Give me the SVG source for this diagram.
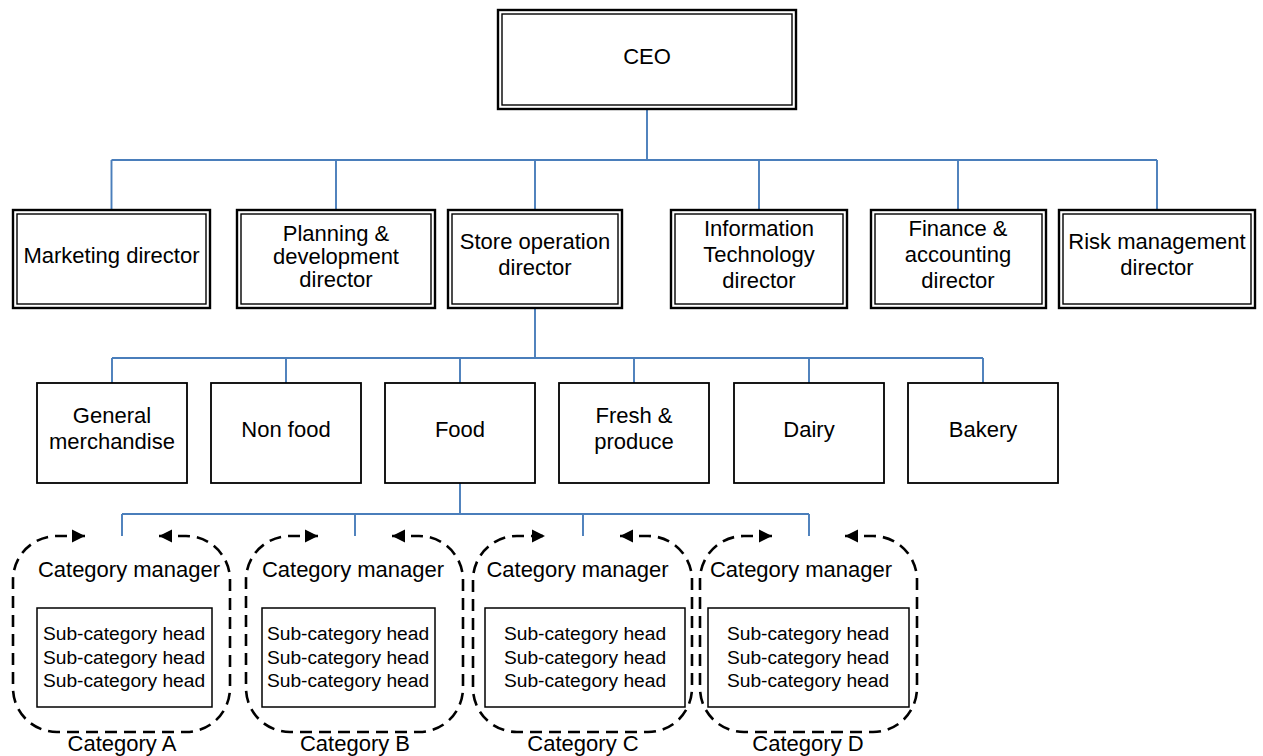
<svg xmlns="http://www.w3.org/2000/svg" width="1263" height="756" viewBox="0 0 1263 756">
  <style>
    text { font-family: "Liberation Sans", Arial, sans-serif; fill: #000; text-anchor: middle; }
    .t { font-size: 22px; }
    .s { font-size: 19.2px; }
    .outer { fill: #fff; stroke: #000; stroke-width: 2.4; }
    .inner { fill: none; stroke: #000; stroke-width: 1.4; }
    .box { fill: #fff; stroke: #000; stroke-width: 1.8; }
    .sub { fill: #fff; stroke: #000; stroke-width: 1.5; }
    .link { fill: none; stroke: #4a7ebb; stroke-width: 1.9; }
    .group { fill: none; stroke: #000; stroke-width: 2.6; stroke-dasharray: 12 7; marker-start: url(#arrow); marker-end: url(#arrow); }
  </style>
  <defs>
    <marker id="arrow" markerUnits="userSpaceOnUse" markerWidth="16" markerHeight="16" refX="13" refY="7" orient="auto-start-reverse">
      <path d="M0,0.5 L13,7 L0,13.5 z" fill="#000"/>
    </marker>
  </defs>
  <rect width="1263" height="756" fill="#fff"/>

  <!-- reporting lines -->
  <g id="connectors">
    <path class="link" d="M647,110 V160 M111.5,160 H1157 M111.5,160 V209 M336,160 V209 M535,160 V209 M759,160 V209 M958,160 V209 M1157,160 V209"/>
    <path class="link" d="M535,309 V358 M112,358 H983 M112,358 V383 M286,358 V383 M460,358 V383 M634,358 V383 M809,358 V383 M983,358 V383"/>
    <path class="link" d="M460,483 V514 M122,514 H809 M122,514 V536 M355,514 V536 M583,514 V536 M809,514 V536"/>
    <path class="link" d="M122,514 H460" stroke-width="2.6"/>
  </g>

  <!-- top level -->
  <g id="ceo">
    <rect class="outer" x="498" y="10" width="298" height="99"/>
    <rect class="inner" x="502" y="14" width="290" height="91"/>
    <text class="t" x="647" y="64">CEO</text>
  </g>

  <!-- directors -->
  <g id="marketing">
    <rect class="outer" x="13" y="210" width="197" height="98"/>
    <rect class="inner" x="17" y="214" width="189" height="90"/>
    <text class="t" x="111.5" y="263">Marketing director</text>
  </g>
  <g id="planning">
    <rect class="outer" x="237" y="210" width="198" height="98"/>
    <rect class="inner" x="241" y="214" width="190" height="90"/>
    <text class="t" x="336" y="240.5">Planning &amp;</text>
    <text class="t" x="336" y="263.5">development</text>
    <text class="t" x="336" y="286.5">director</text>
  </g>
  <g id="store-operation">
    <rect class="outer" x="448" y="210" width="174" height="98"/>
    <rect class="inner" x="452" y="214" width="166" height="90"/>
    <text class="t" x="535" y="249">Store operation</text>
    <text class="t" x="535" y="275">director</text>
  </g>
  <g id="it">
    <rect class="outer" x="671" y="210" width="176" height="98"/>
    <rect class="inner" x="675" y="214" width="168" height="90"/>
    <text class="t" x="759" y="236">Information</text>
    <text class="t" x="759" y="262">Technology</text>
    <text class="t" x="759" y="288">director</text>
  </g>
  <g id="finance">
    <rect class="outer" x="871" y="210" width="175" height="98"/>
    <rect class="inner" x="875" y="214" width="167" height="90"/>
    <text class="t" x="958" y="236">Finance &amp;</text>
    <text class="t" x="958" y="262">accounting</text>
    <text class="t" x="958" y="288">director</text>
  </g>
  <g id="risk">
    <rect class="outer" x="1059" y="210" width="196" height="98"/>
    <rect class="inner" x="1063" y="214" width="188" height="90"/>
    <text class="t" x="1157" y="249">Risk management</text>
    <text class="t" x="1157" y="275">director</text>
  </g>

  <!-- departments -->
  <g id="general-merchandise">
    <rect class="box" x="37" y="383" width="150" height="100"/>
    <text class="t" x="112" y="422.5">General</text>
    <text class="t" x="112" y="448.5">merchandise</text>
  </g>
  <g id="non-food">
    <rect class="box" x="211" y="383" width="150" height="100"/>
    <text class="t" x="286" y="437">Non food</text>
  </g>
  <g id="food">
    <rect class="box" x="385" y="383" width="150" height="100"/>
    <text class="t" x="460" y="437">Food</text>
  </g>
  <g id="fresh-produce">
    <rect class="box" x="559" y="383" width="150" height="100"/>
    <text class="t" x="634" y="422.5">Fresh &amp;</text>
    <text class="t" x="634" y="448.5">produce</text>
  </g>
  <g id="dairy">
    <rect class="box" x="734" y="383" width="150" height="100"/>
    <text class="t" x="809" y="437">Dairy</text>
  </g>
  <g id="bakery">
    <rect class="box" x="908" y="383" width="150" height="100"/>
    <text class="t" x="983" y="437">Bakery</text>
  </g>

  <!-- food categories -->
  <g id="category-a">
    <path class="group" d="M159,536 H186 A44,44 0 0 1 230,580 V688 A44,44 0 0 1 186,732 H57 A44,44 0 0 1 13,688 V580 A44,44 0 0 1 57,536 H85"/>
    <text class="t" x="129" y="577">Category manager</text>
    <rect class="sub" x="37" y="608" width="175" height="99"/>
    <text class="s" x="124" y="640">Sub-category head</text>
    <text class="s" x="124" y="663.5">Sub-category head</text>
    <text class="s" x="124" y="687">Sub-category head</text>
    <text class="t" x="122" y="751">Category A</text>
  </g>
  <g id="category-b">
    <path class="group" d="M392,536 H419 A44,44 0 0 1 463,580 V688 A44,44 0 0 1 419,732 H290 A44,44 0 0 1 246,688 V580 A44,44 0 0 1 290,536 H318"/>
    <text class="t" x="353" y="577">Category manager</text>
    <rect class="sub" x="262" y="608" width="173" height="99"/>
    <text class="s" x="348" y="640">Sub-category head</text>
    <text class="s" x="348" y="663.5">Sub-category head</text>
    <text class="s" x="348" y="687">Sub-category head</text>
    <text class="t" x="355" y="751">Category B</text>
  </g>
  <g id="category-c">
    <path class="group" d="M620,536 H648 A44,44 0 0 1 692,580 V688 A44,44 0 0 1 648,732 H517 A44,44 0 0 1 473,688 V580 A44,44 0 0 1 517,536 H545"/>
    <text class="t" x="577.5" y="577">Category manager</text>
    <rect class="sub" x="485" y="608" width="200" height="99"/>
    <text class="s" x="585" y="640">Sub-category head</text>
    <text class="s" x="585" y="663.5">Sub-category head</text>
    <text class="s" x="585" y="687">Sub-category head</text>
    <text class="t" x="583" y="751">Category C</text>
  </g>
  <g id="category-d">
    <path class="group" d="M845,536 H873 A44,44 0 0 1 917,580 V688 A44,44 0 0 1 873,732 H744 A44,44 0 0 1 700,688 V580 A44,44 0 0 1 744,536 H772"/>
    <text class="t" x="801" y="577">Category manager</text>
    <rect class="sub" x="708" y="608" width="201" height="99"/>
    <text class="s" x="808" y="640">Sub-category head</text>
    <text class="s" x="808" y="663.5">Sub-category head</text>
    <text class="s" x="808" y="687">Sub-category head</text>
    <text class="t" x="808" y="751">Category D</text>
  </g>
</svg>
